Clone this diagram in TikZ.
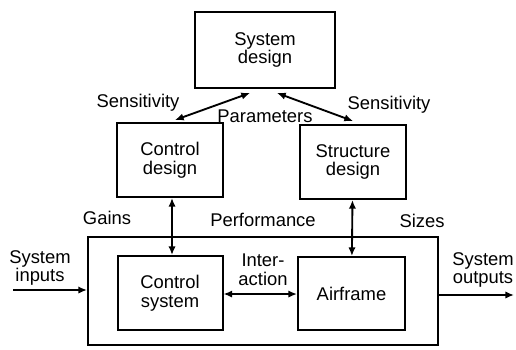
\documentclass[tikz,border=0pt]{standalone}
\usepackage{fontspec}
\setmainfont{Liberation Sans}
\usetikzlibrary{arrows.meta,calc}
\begin{document}
\begin{tikzpicture}[x=0.75pt,y=-0.75pt,
  box/.style={draw,line width=1.5pt,align=center,inner sep=0pt},
  lbl/.style={align=center,inner sep=0pt},
  conn/.style={line width=1.4pt,{Latex[length=6.5pt,width=5.5pt]}-{Latex[length=6.5pt,width=5.5pt]}},
  oneway/.style={line width=1.4pt,-{Latex[length=6.5pt,width=5.5pt]}},
  every node/.style={font=\fontsize{13.8pt}{14pt}\selectfont}]
\useasboundingbox (0,0) rectangle (516,349);
\node[box,minimum width=105pt,minimum height=57pt] (sys) at (265,50) {System\\design};
\node[box,minimum width=79.5pt,minimum height=55.5pt] (cd) at (170,160) {Control\\design};
\node[box,minimum width=79.5pt,minimum height=55.5pt] (sd) at (353,162) {Structure\\design};
\node[box,minimum width=262.5pt,minimum height=81pt] (outer) at (263,291) {};
\node[box,minimum width=78.75pt,minimum height=55.5pt] (cs) at (170,293) {Control\\system};
\node[box,minimum width=80.25pt,minimum height=54.75pt] (af) at (351.5,293.5) {Airframe};
\draw[conn] ([shift={(-15,4)}]sys.south) -- ([shift={(5,-2)}]cd.north);
\draw[conn] ([shift={(12,4)}]sys.south) -- ([shift={(0,-3)}]sd.north);
\draw[conn] ([xshift=1.5pt]cd.south) -- ([xshift=1.5pt]cs.north);
\draw[conn] ([xshift=-0.4pt]sd.south) -- ([xshift=0.3pt]af.north);
\draw[conn] ([yshift=-0.75pt]cs.east) -- ([yshift=-0.4pt]af.west);
\coordinate (in) at (13,290);
\coordinate (out) at (514,295);
\draw[oneway] (in) -- (in -| outer.west);
\draw[oneway] (out -| outer.east) -- (out);
\node[lbl] (l1) at (138,103) {Sensitivity};
\node[lbl] (l2) at (265,116) {Parameters};
\node[lbl] (l3) at (389,105) {Sensitivity};
\node[lbl] (l4) at (107,218) {Gains};
\node[lbl] (l5) at (263,220) {Performance};
\node[lbl] (l6) at (422,221) {Sizes};
\node[lbl] (l7) at (263,270) {Inter-\\action};
\node[lbl] (l8) at (40,268) {System\\inputs};
\node[lbl] (l9) at (483,270) {System\\outputs};
\end{tikzpicture}
\end{document}
